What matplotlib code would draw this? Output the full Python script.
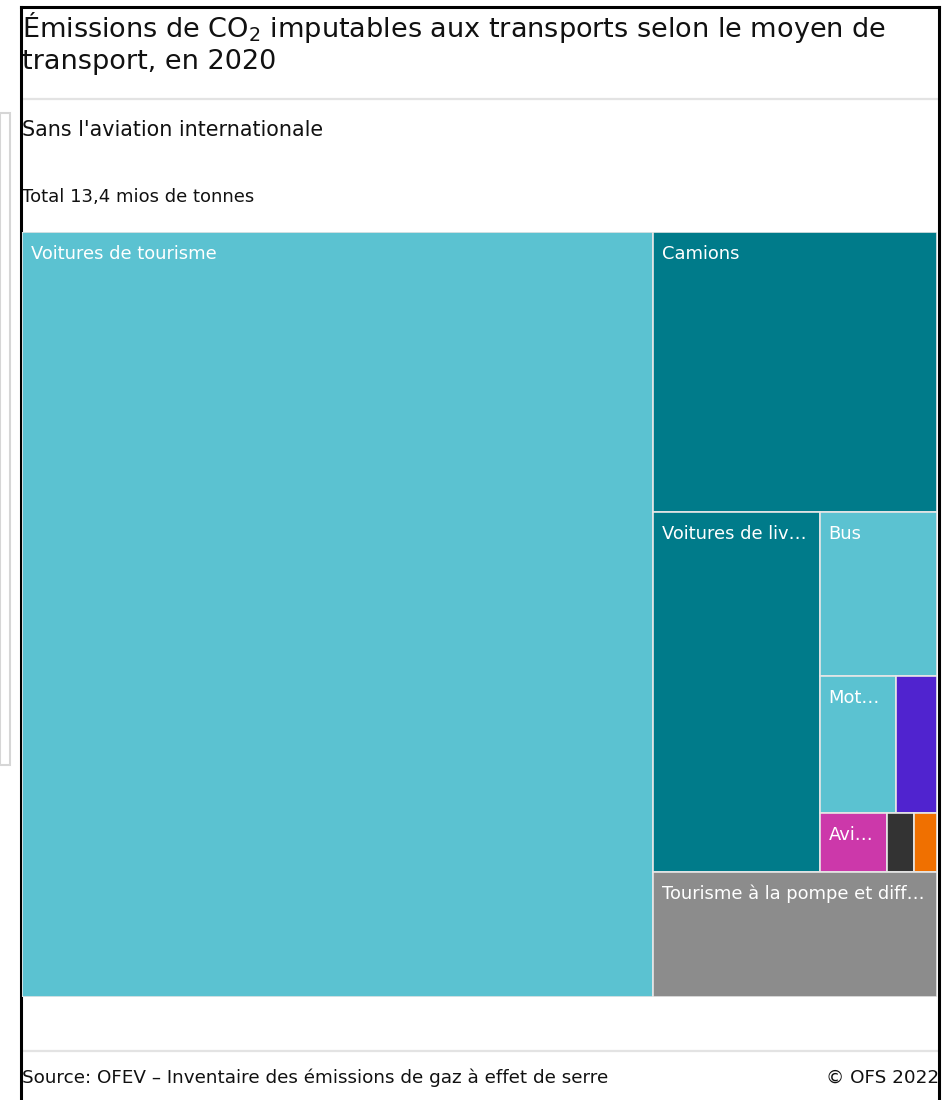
import matplotlib
matplotlib.use("Agg")
import matplotlib.pyplot as plt
from matplotlib.patches import Rectangle

plt.rcParams['font.family'] = ['DejaVu Sans']

# CO2 emissions 2020 by transport mode, mio tonnes
names = ["Voitures de tourisme", "Camions", "Voitures de livraison", "Bus",
         "Motocycles", "Navigation", "Aviation", "Chemins de fer", "Autres",
         "Tourisme à la pompe et différences statistiques"]
values = [9.24, 1.52, 1.15, 0.37, 0.20, 0.107, 0.076, 0.031, 0.026, 0.68]
colors = ["#5bc2d1", "#007b8a", "#007b8a", "#5bc2d1", "#5bc2d1",
          "#5023cf", "#cc38aa", "#333333", "#f07000", "#8c8c8c"]

# how the tiles are nested: 'h' = side by side, 'v' = stacked
plan = ('h', 0, ('v', 1, ('h', 2, ('v', 3, ('h', 4, 5), ('h', 6, 7, 8))), 9))

W, H = 947, 1100
PT = 0.72  # px -> pt at dpi 100
fig = plt.figure(figsize=(W / 100, H / 100), dpi=100)

# overlay in pixel coordinates for the page decoration
page = fig.add_axes([0, 0, 1, 1])
page.set_xlim(0, W)
page.set_ylim(H, 0)
page.axis('off')


def total(node):
    if isinstance(node, int):
        return values[node]
    return sum(total(k) for k in node[1:])


def layout(node, x0, y0, x1, y1, out):
    if isinstance(node, int):
        out[node] = (x0, y0, x1, y1)
        return
    kind, kids = node[0], node[1:]
    tot = total(node)
    pos = x0 if kind == 'h' else y0
    for k in kids:
        f = total(k) / tot
        if kind == 'h':
            step = (x1 - x0) * f
            layout(k, pos, y0, pos + step, y1, out)
        else:
            step = (y1 - y0) * f
            layout(k, x0, pos, x1, pos + step, out)
        pos += step


# treemap axes
tl, tr, tt, tb = 22, 937, 232, 997
ax = fig.add_axes([tl / W, 1 - tb / H, (tr - tl) / W, (tb - tt) / H])
ax.set_xlim(0, 1)
ax.set_ylim(1, 0)
ax.axis('off')

rects = {}
layout(plan, 0, 0, 1, 1, rects)

fig.canvas.draw()
renderer = fig.canvas.get_renderer()
ax_w_px = tr - tl
pad = 9

for i, (x0, y0, x1, y1) in rects.items():
    ax.add_patch(Rectangle((x0, y0), x1 - x0, y1 - y0, facecolor=colors[i],
                           edgecolor="#e6e6e6", linewidth=1.2))
    avail = (x1 - x0) * ax_w_px - 2 * pad
    t = ax.annotate(names[i], xy=(x0, y0), xytext=(pad * PT, -27 * PT),
                    textcoords='offset points', ha='left', va='baseline',
                    color='white', fontsize=12.9)
    label = names[i]
    n = len(label)
    while t.get_window_extent(renderer).width > avail and n > 0:
        n -= 1
        t.set_text(label[:n].rstrip() + "…")
    if n < 3:
        t.remove()

# title block
page.text(22, 37, "Émissions de CO$_\\mathregular{2}$ imputables aux transports selon le moyen de",
          fontsize=19.5, va='baseline', ha='left', color='#111111')
page.text(22, 69, "transport, en 2020", fontsize=19.5, va='baseline', ha='left', color='#111111')
page.plot([22, 937], [99, 99], color='#e3e3e3', lw=1.6)
page.text(22, 136, "Sans l'aviation internationale", fontsize=14.9, va='baseline', color='#111111')
page.text(22, 202, "Total 13,4 mios de tonnes", fontsize=13.0, va='baseline', color='#111111')

# footer
page.plot([22, 937], [1051, 1051], color='#e3e3e3', lw=1.6)
page.text(22, 1083, "Source: OFEV – Inventaire des émissions de gaz à effet de serre",
          fontsize=13.2, va='baseline', color='#111111')
page.text(826, 1083, "© OFS 2022", fontsize=13.2, va='baseline', color='#111111')

# screenshot frame
page.add_patch(Rectangle((939, 0), 10, H, facecolor='white', edgecolor='none', zorder=5))
page.add_patch(Rectangle((0, 113), 10, 652, facecolor='none', edgecolor='#d6d6d6', lw=1.5, zorder=5))
page.plot([21, 21], [7, H], color='black', lw=2.2, zorder=6)
page.plot([21, 939], [7, 7], color='black', lw=2.2, zorder=6)
page.plot([938.5, 938.5], [7, H], color='black', lw=2.2, zorder=6)

fig.savefig("out.png", dpi=100)
